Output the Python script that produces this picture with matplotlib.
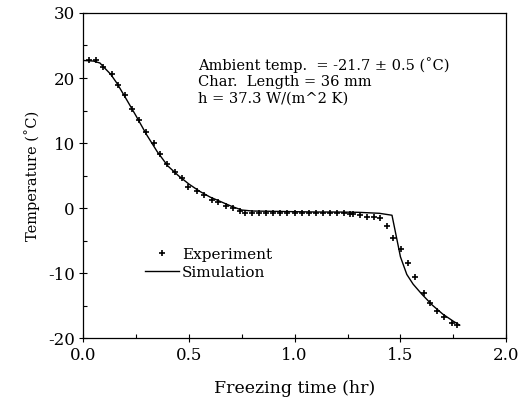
import matplotlib.pyplot as plt
from matplotlib.ticker import MultipleLocator

# experiment points
exp_t = [0.03, 0.061, 0.096, 0.136, 0.167, 0.199, 0.233, 0.266, 0.298, 0.333,
         0.364, 0.396, 0.435, 0.467, 0.498, 0.537, 0.572, 0.608, 0.64, 0.675,
         0.708, 0.742, 0.766, 0.80, 0.833, 0.866, 0.90, 0.933, 0.966, 1.0,
         1.033, 1.066, 1.10, 1.133, 1.166, 1.20, 1.233, 1.262, 1.278, 1.31,
         1.341, 1.373, 1.401, 1.436, 1.464, 1.502, 1.535, 1.571, 1.609, 1.638,
         1.672, 1.708, 1.743, 1.767]
exp_T = [22.7, 22.7, 21.7, 20.6, 19.0, 17.4, 15.2, 13.5, 11.7, 9.95,
         8.3, 6.8, 5.6, 4.7, 3.2, 2.7, 2.0, 1.3, 0.97, 0.36,
         -0.05, -0.46, -0.8, -0.82, -0.82, -0.8, -0.8, -0.8, -0.8, -0.8,
         -0.8, -0.8, -0.8, -0.8, -0.8, -0.8, -0.8, -0.85, -0.97, -1.08,
         -1.34, -1.43, -1.58, -2.72, -4.66, -6.3, -8.4, -10.6, -13.0, -14.6,
         -15.8, -16.8, -17.7, -18.0]

# simulation curve
sim_t = [0, 0.05, 0.08, 0.1, 0.13, 0.16, 0.2, 0.25, 0.3, 0.35, 0.4, 0.45, 0.5,
         0.55, 0.6, 0.65, 0.7, 0.75, 0.8, 0.9, 1.0, 1.1, 1.2, 1.3, 1.4, 1.46,
         1.475, 1.5, 1.53, 1.56, 1.6, 1.65, 1.7, 1.75, 1.78]
sim_T = [22.7, 22.6, 22.3, 21.6, 20.6, 19.2, 17.0, 14.2, 11.3, 8.7, 6.5, 5.0, 3.7,
         2.6, 1.7, 1.0, 0.3, -0.3, -0.45, -0.5, -0.55, -0.6, -0.6, -0.65, -0.8, -1.1,
         -3.5, -7.5, -10.2, -11.7, -13.2, -14.9, -16.3, -17.4, -18.0]

plt.rcParams['font.family'] = ['DejaVu Serif']
plt.rcParams['axes.unicode_minus'] = False

fig = plt.figure(figsize=(5.29, 4.05), dpi=100)
ax = fig.add_axes([0.157, 0.165, 0.8, 0.803])

ax.plot(sim_t, sim_T, '-', color='black', linewidth=1.0, label='Simulation')
ax.plot(exp_t, exp_T, '+', color='black', markersize=5, markeredgewidth=1.2,
        label='Experiment')

ax.set_xlim(0, 2.0)
ax.set_ylim(-20, 30)
ax.xaxis.set_major_locator(MultipleLocator(0.5))
ax.xaxis.set_minor_locator(MultipleLocator(0.25))
ax.yaxis.set_major_locator(MultipleLocator(10))
ax.yaxis.set_minor_locator(MultipleLocator(5))
ax.xaxis.set_major_formatter(plt.FuncFormatter(lambda v, p: '%.1f' % v))
ax.tick_params(which='major', direction='inout', length=6, width=0.8, labelsize=12, pad=3)
ax.tick_params(which='minor', direction='in', length=3, width=0.8)
for s in ax.spines.values():
    s.set_linewidth(0.9)

ax.set_xlabel('Freezing time (hr)', fontsize=12.5, labelpad=12)
ax.set_ylabel('Temperature (˚C)', fontsize=10.5, labelpad=6)

ax.text(0.545, 23.2, 'Ambient temp.  = -21.7 ± 0.5 (˚C)\nChar.  Length = 36 mm\nh = 37.3 W/(m^2 K)',
        fontsize=10.5, va='top', ha='left', linespacing=1.2)

handles, labels = ax.get_legend_handles_labels()
ax.legend(handles[::-1], labels[::-1], loc='center left', bbox_to_anchor=(0.147, 0.229),
          frameon=False, fontsize=11, handlelength=2.2, handletextpad=0.2,
          labelspacing=0.25, borderpad=0, borderaxespad=0)

fig.savefig('out.png', dpi=100)
